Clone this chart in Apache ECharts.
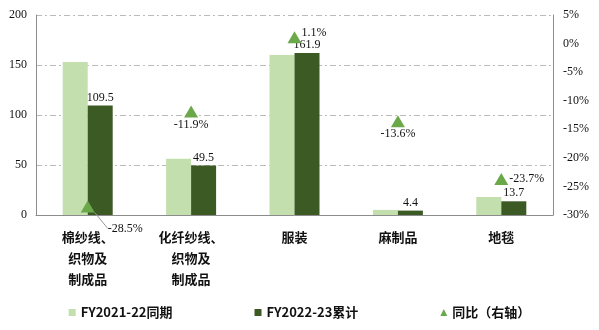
<!DOCTYPE html>
<html><head><meta charset="utf-8">
<script src="https://cdn.jsdelivr.net/npm/echarts@6/dist/echarts.min.js"></script>
<style>html,body{margin:0;padding:0;background:#fff}#c{width:599px;height:330px}</style>
</head><body><div id="c"></div>
<script>
var categories = ['棉纱线、\n织物及\n制成品', '化纤纱线、\n织物及\n制成品', '服装', '麻制品', '地毯'];
var prevValues = [153.1, 56.2, 160.1, 5.1, 18.0];
var currValues = [109.5, 49.5, 161.9, 4.4, 13.7];
var yoyValues = [-28.5, -11.9, 1.1, -13.6, -23.7];
var leftTicks = [0, 50, 100, 150, 200];
var rightTicks = [5, 0, -5, -10, -15, -20, -25, -30];
var seriesNames = ['FY2021-22同期', 'FY2022-23累计', '同比（右轴）'];

var yoyLabelPos = ['right', 'bottom', 'right', 'bottom', 'right'];

var serif = '"Liberation Serif", "Times New Roman", serif';
var cjk = '"Noto Sans CJK SC", sans-serif';
var chart = echarts.init(document.getElementById('c'));
chart.setOption({
  animation: false,
  grid: {left: 36, right: 46, top: 15, bottom: 115},
  legend: {
    bottom: 6, left: 'center', itemGap: 82, itemWidth: 7, itemHeight: 7,
    textStyle: {fontFamily: cjk, fontSize: 13, fontWeight: 'bold', color: '#111'},
    data: [
      {name: seriesNames[0], icon: 'rect'},
      {name: seriesNames[1], icon: 'rect'},
      {name: seriesNames[2], icon: 'triangle', itemStyle: {color: '#6ba84a', opacity: 1}}
    ]
  },
  xAxis: {
    type: 'category', data: categories,
    axisLine: {lineStyle: {color: '#8c8c8c'}}, axisTick: {show: false},
    axisLabel: {fontFamily: cjk, fontSize: 13, fontWeight: 'bold', color: '#111', lineHeight: 21, margin: 12, interval: 0}
  },
  yAxis: [{
    type: 'value', min: 0, max: 200, interval: 50,
    axisLine: {show: true, lineStyle: {color: '#8c8c8c'}}, axisTick: {show: false},
    axisLabel: {fontFamily: serif, fontSize: 12, color: '#111', margin: 9},
    splitLine: {lineStyle: {color: '#bbbbbb', type: [6, 3, 2, 3]}}
  }, {
    type: 'value', min: -30, max: 5, interval: 5,
    axisLine: {show: true, lineStyle: {color: '#8c8c8c'}}, axisTick: {show: false},
    axisLabel: {fontFamily: serif, fontSize: 12, color: '#111', margin: 10, formatter: '{value}%'},
    splitLine: {show: false}
  }],
  series: [{
    name: seriesNames[0], type: 'bar', data: prevValues, barWidth: 25, barGap: '0%',
    itemStyle: {color: '#c3dfae'}
  }, {
    name: seriesNames[1], type: 'bar', data: currValues, barWidth: 25,
    itemStyle: {color: '#3c5a24'},
    label: {show: true, position: 'top', distance: 2, fontFamily: serif, fontSize: 12, color: '#111'}
  }, {
    name: seriesNames[2], type: 'scatter', yAxisIndex: 1, symbol: 'triangle', symbolSize: [14, 12],
    itemStyle: {color: '#6ba84a', opacity: 1},
    data: yoyValues.map(function (v, i) {
      return {value: v, label: {position: yoyLabelPos[i]}, labelLine: {show: i === 0}};
    }),
    label: {show: true, fontFamily: serif, fontSize: 12, color: '#111', opacity: 1, distance: 1,
      formatter: function (p) { return p.value + '%'; }},
    labelLine: {show: false, lineStyle: {color: '#999', width: 1, opacity: 1}},
    emphasis: {disabled: true},
    labelLayout: function (p) {
      if (p.dataIndex === 0) return {dx: 12, dy: 22};
      if (p.dataIndex === 2) return {dx: -1, dy: -4};
      return {};
    }
  }]
});
</script></body></html>
